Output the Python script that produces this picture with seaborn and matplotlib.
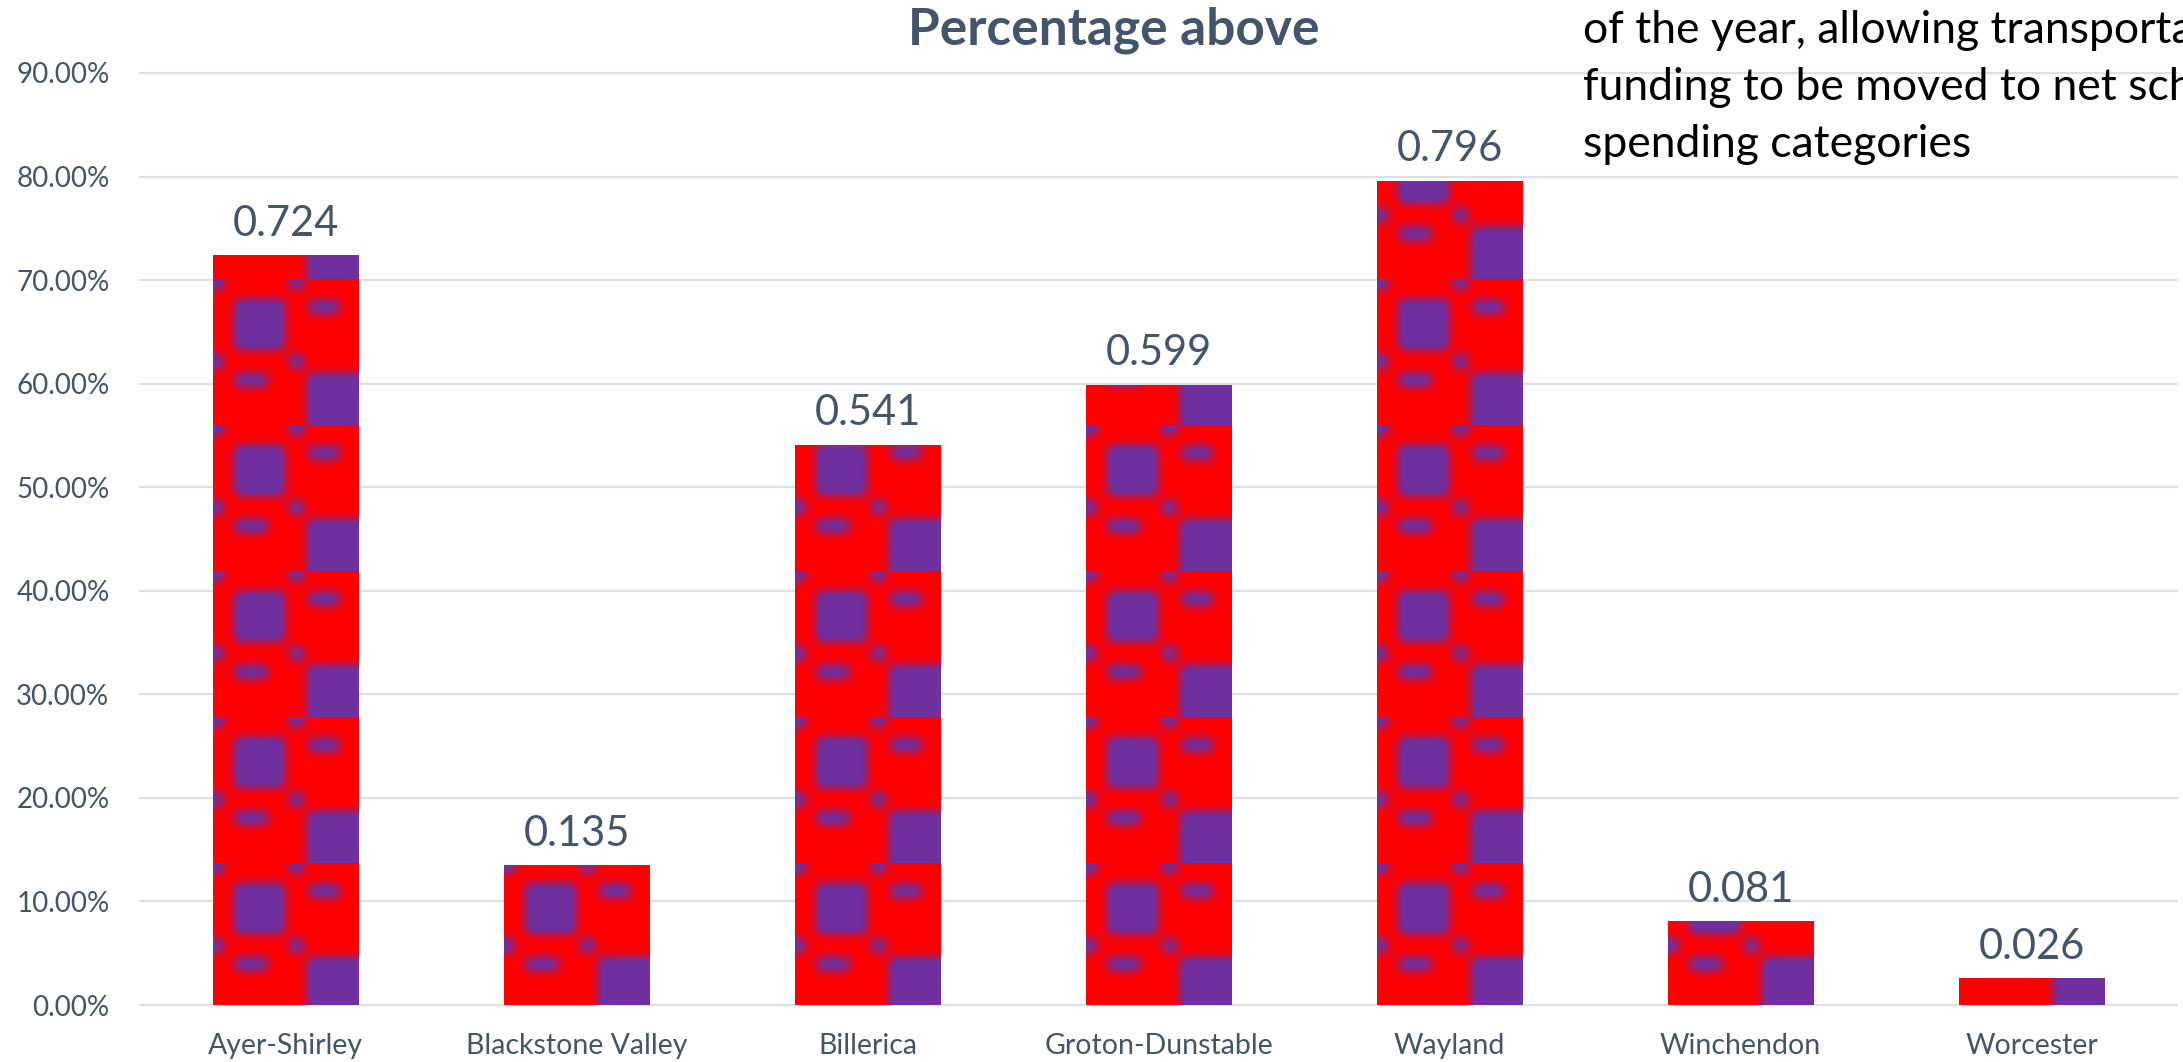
import numpy as np
import pandas as pd
import matplotlib
matplotlib.use("Agg")
import matplotlib.pyplot as plt
from matplotlib.ticker import PercentFormatter, MultipleLocator
import seaborn as sns

# ---- data ----
categories = ["Ayer-Shirley", "Blackstone Valley", "Billerica", "Groton-Dunstable",
              "Wayland", "Winchendon", "Worcester"]
values = [0.724, 0.135, 0.541, 0.599, 0.796, 0.081, 0.026]
value_labels = ["0.724", "0.135", "0.541", "0.599", "0.796", "0.081", "0.026"]
title_text = "Percentage above"
note_text = ("of the year, allowing transportation\n"
             "funding to be moved to net school\n"
             "spending categories")

sns.set_style("white")
FONT = ["Lato", "DejaVu Sans"]
plt.rcParams["font.family"] = FONT

SLATE = "#44546A"
GRID = "#DCE1E7"
RED = np.array([255, 0, 0]) / 255.0
PURPLE = np.array([112, 48, 160]) / 255.0

df = pd.DataFrame({"district": categories, "value": values})

fig = plt.figure(figsize=(21.83, 10.62), dpi=100)
ax = fig.add_axes([140 / 2183, 57 / 1062, 2037 / 2183, 932 / 1062])

sns.barplot(data=df, x="district", y="value", color="#FF0000", saturation=1,
            width=0.5, ax=ax, linewidth=0, edgecolor="none")

# ---- texture tile (red / purple blurred checker) ----
N = 146
mask = np.zeros((N, N))
def box(x0, x1, y0, y1):
    mask[max(y0, 0):y1, max(x0, 0):x1] = 1.0
box(22, 71, 21, 70)      # TL square
box(96, 126, 22, 34)     # TR dash
box(-1, 10, -1, 10)      # corner dots
box(77, 90, -1, 10)
box(-1, 10, 76, 89)
box(77, 90, 76, 89)
box(22, 54, 95, 107)     # BL dash
box(95, 146, 95, 146)    # BR square
sig = 5.0
r = 15
k = np.exp(-0.5 * (np.arange(-r, r + 1) / sig) ** 2)
k /= k.sum()
pad = np.pad(mask, r, mode="edge")
tmp = np.zeros_like(pad)
for i, w in enumerate(k):
    tmp += w * np.roll(pad, i - r, axis=0)
out = np.zeros_like(pad)
for i, w in enumerate(k):
    out += w * np.roll(tmp, i - r, axis=1)
m = np.clip(out[r:-r, r:-r] * 1.3, 0, 1)
tile = RED[None, None, :] * (1 - m[..., None]) + PURPLE[None, None, :] * m[..., None]

xlim = (-0.5, 6.5)
ylim = (0, 0.9)
tile_h = 146 / 1035.6
y_off = -4 / 1035.6
for p in list(ax.patches):
    x0, w, h = p.get_x(), p.get_width(), p.get_height()
    ys = y_off
    while ys < h:
        im = ax.imshow(tile, extent=(x0, x0 + w, ys, ys + tile_h), origin="upper",
                       aspect="auto", interpolation="bilinear", zorder=2.5)
        im.set_clip_path(p)
        ys += tile_h

ax.set_xlim(*xlim)
ax.set_ylim(*ylim)

ax.bar_label(ax.containers[0], labels=value_labels, padding=9,
             fontsize=30, color=SLATE)

ax.yaxis.set_major_locator(MultipleLocator(0.1))
ax.yaxis.set_major_formatter(PercentFormatter(xmax=1, decimals=2))
ax.set_axisbelow(True)
ax.yaxis.grid(True, color=GRID, linewidth=1.6)
for gl in ax.get_ygridlines():
    gl.set_clip_on(False)
ax.xaxis.grid(False)
for s in ax.spines.values():
    s.set_visible(False)
ax.tick_params(axis="y", length=0, pad=22, labelsize=20, labelcolor=SLATE)
ax.tick_params(axis="x", length=0, pad=20, labelsize=20.5, labelcolor=SLATE)
ax.set_xlabel("")
ax.set_ylabel("")

fig.text(1114 / 2183, 1 - 45 / 1062, title_text, ha="center", va="baseline",
         fontsize=37, fontweight="bold", color=SLATE)
fig.text(1583 / 2183, 1 - 10 / 1062, note_text, ha="left", va="top",
         fontsize=32, color="black", linespacing=1.48)

fig.savefig("out.png", dpi=100)
